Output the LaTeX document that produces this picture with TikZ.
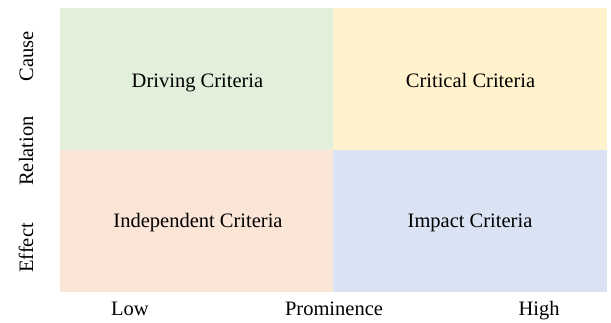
\documentclass[tikz,border=0pt]{standalone}
\usepackage{fontspec}
\setmainfont{Liberation Serif}
\usetikzlibrary{positioning}

\definecolor{drivegreen}{HTML}{E2EFDA}
\definecolor{crityellow}{HTML}{FFF2CC}
\definecolor{indeppink}{HTML}{FBE5D6}
\definecolor{impactblue}{HTML}{DAE3F3}

\begin{document}
\begin{tikzpicture}[
    x=1pt, y=-1pt,
    quad/.style={rectangle, inner sep=0pt, minimum width=273.5pt, minimum height=142pt},
    txt/.style={anchor=base, inner sep=0pt, font=\fontsize{20.5}{24}\selectfont}
]
\useasboundingbox (0,0) rectangle (611,323);

% Quadrants
\node[quad, fill=drivegreen] (drive) at (196.5, 79.5) {};
\node[quad, fill=crityellow] (crit) at (470, 79.5) {};
\node[quad, fill=indeppink] (indep) at (196.5, 221.5) {};
\node[quad, fill=impactblue] (impact) at (470, 221.5) {};

% Quadrant labels
\node[txt] (drivetxt) at (197.5, 88) {Driving Criteria};
\node[txt] (crittxt) at (470.5, 88) {Critical Criteria};
\node[txt] (indeptxt) at (198, 228) {Independent Criteria};
\node[txt] (impacttxt) at (470, 228) {Impact Criteria};

% Vertical axis
\node[txt, rotate=90] (cause) at (33, 56) {Cause};
\node[txt, rotate=90] (rel) at (33, 151) {Relation};
\node[txt, rotate=90] (effect) at (33, 248) {Effect};

% Horizontal axis
\node[txt] (low) at (130, 316) {Low};
\node[txt] (prom) at (334, 316) {Prominence};
\node[txt] (high) at (539, 316) {High};

\end{tikzpicture}
\end{document}
